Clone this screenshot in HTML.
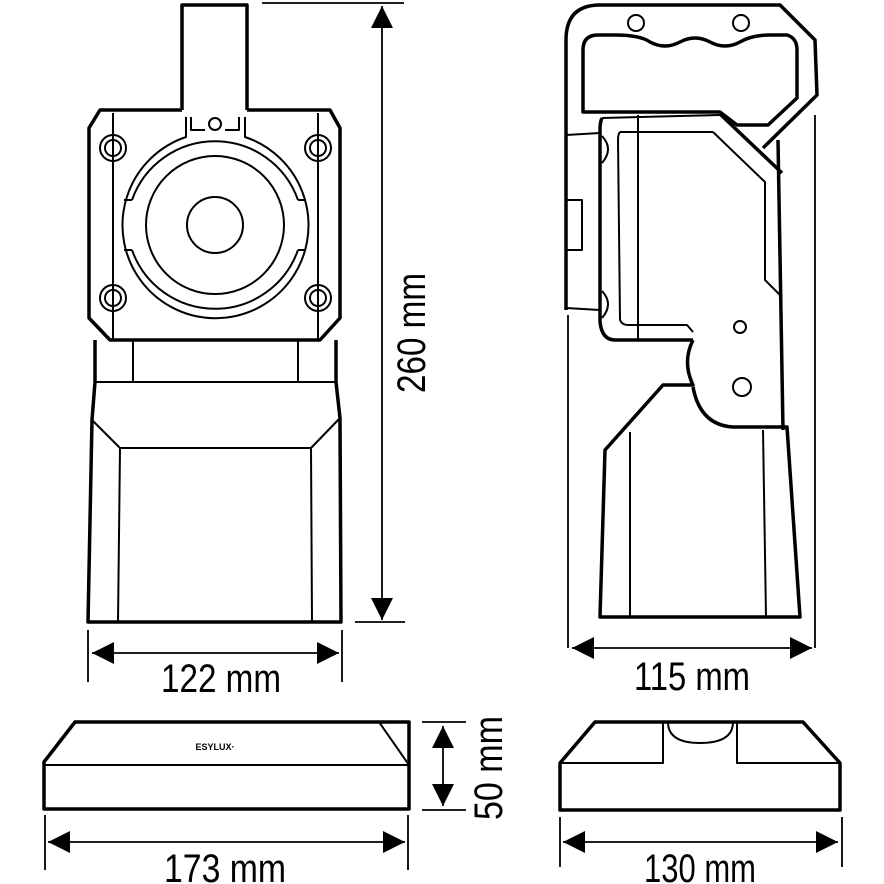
<!DOCTYPE html>
<html><head><meta charset="utf-8"><style>html,body{margin:0;padding:0;background:#fff}svg{display:block}</style></head>
<body>
<svg width="884" height="884" viewBox="0 0 884 884" xmlns="http://www.w3.org/2000/svg">
<defs>
<marker id="a" viewBox="0 0 10 10" refX="10" refY="5" markerWidth="22" markerHeight="22" markerUnits="userSpaceOnUse" orient="auto-start-reverse"><path d="M0,0 L10,5 L0,10 Z" fill="#000"/></marker>
</defs>
<g fill="none" stroke="#000" stroke-linejoin="round">
<!-- FRONT VIEW -->
<g stroke-width="3.5">
<path d="M182,110 L182,5 L247,5 L247,110"/>
<path d="M182,110 L100,110 L89,128 L89,318 L110,340 L320,340 L340,318 L340,128 L330,110 L247,110"/>
<path d="M95,340 L95,382 L92,420 L88,622 L341,622 L340,418 L336,382 L336,340"/>
</g>
<g stroke-width="2">
<line x1="113" y1="113" x2="113" y2="340"/><line x1="318" y1="113" x2="318" y2="340"/>
<circle cx="113" cy="148" r="13"/><circle cx="113" cy="148" r="8"/>
<circle cx="318" cy="148" r="13"/><circle cx="318" cy="148" r="8"/>
<circle cx="113" cy="298" r="13"/><circle cx="113" cy="298" r="8"/>
<circle cx="318" cy="298" r="13"/><circle cx="318" cy="298" r="8"/>
<path d="M186,117 L186,137 A93,93 0 1 0 245,137 L245,117"/>
<path d="M191,117 L191,130 L205,130 M225,130 L239,130 L239,117"/>
<circle cx="215" cy="124" r="6"/>
<path d="M132,200 L124,200 M298,200 L306,200 M132,250 L124,250 M298,250 L306,250"/>
<path d="M132,200 A88,88 0 0 1 298,200 M132,250 A88,88 0 0 0 298,250"/>
<circle cx="215" cy="225" r="69"/>
<circle cx="215" cy="225" r="28"/>
<line x1="133" y1="340" x2="133" y2="382"/><line x1="298" y1="340" x2="298" y2="382"/>
<line x1="95" y1="382" x2="336" y2="382"/>
<path d="M92,420 L120,448 L311,448 L340,418"/>
<line x1="120" y1="448" x2="118" y2="622"/><line x1="311" y1="448" x2="312" y2="622"/>
</g>
<!-- dims front -->
<g stroke-width="1.8">
<line x1="88" y1="630" x2="88" y2="682"/><line x1="342" y1="630" x2="342" y2="682"/>
<line x1="92" y1="653" x2="339" y2="653" marker-start="url(#a)" marker-end="url(#a)"/>
<line x1="262" y1="3" x2="404" y2="3"/><line x1="355" y1="622" x2="405" y2="622"/>
<line x1="382" y1="6" x2="382" y2="620" marker-start="url(#a)" marker-end="url(#a)"/>
</g>
<!-- SIDE VIEW -->
<g stroke-width="3.5">
<path d="M566,310 L566,40 Q566,5 600,5 L780,5 L815,40 L817,95 L763,148"/>
<path d="M583,112 L583,50 Q583,35 598,35 L615,35 Q640,35 650,42 Q665,50 680,42 Q695,34 710,42 Q725,50 740,42 Q752,35 770,35 L787,35 Q797,38 797,50 L797,98 L768,125 L737,125 L720,112 Z"/>
<path d="M720,114 L782,173"/>
<path d="M602,118 Q600,122 600,130 L600,322 Q602,340 615,340 L693,340"/>
<path d="M693,340 Q682,362 693,385 L663,385 L605,450 L600,617 L800,617 L787,427 L733,427 Q700,425 693,387"/>
<path d="M778,140 L783,430"/>
</g>
<g stroke-width="2">
<circle cx="636" cy="23" r="8"/><circle cx="741" cy="23" r="8"/>
<path d="M713,132 L765,182 L765,280 L782,297"/>
<path d="M602,118 L720,115"/>
<path d="M620,132 L713,132 M620,132 Q618,134 618,140 L620,320 Q622,325 628,325 L687,325 L693,332"/>
<line x1="638" y1="115" x2="638" y2="340"/>
<path d="M566,135 L600,133 M566,308 L600,310"/>
<path d="M566,200 L582,200 L582,250 L566,250"/>
<path d="M602,136 Q614,149 602,163 M602,291 Q614,304 602,318"/>
<circle cx="740" cy="327" r="6"/><circle cx="742" cy="387" r="9"/>
<line x1="630" y1="432" x2="630" y2="617"/><line x1="763" y1="430" x2="766" y2="617"/>
</g>
<g stroke-width="1.8">
<line x1="815" y1="115" x2="815" y2="648"/><line x1="568" y1="315" x2="568" y2="648"/>
<line x1="572" y1="648" x2="812" y2="648" marker-start="url(#a)" marker-end="url(#a)"/>
</g>
<!-- BOTTOM LEFT -->
<g stroke-width="3.5">
<path d="M75,722 L409,722 L409,809 L44,809 L44,762 Z"/>
</g>
<g stroke-width="2">
<line x1="44" y1="765" x2="409" y2="765"/>
<line x1="379" y1="722" x2="409" y2="765"/>
</g>
<g stroke-width="1.8">
<line x1="422" y1="722" x2="466" y2="722"/><line x1="422" y1="810" x2="466" y2="810"/>
<line x1="443" y1="726" x2="443" y2="806" marker-start="url(#a)" marker-end="url(#a)"/>
<line x1="45" y1="815" x2="45" y2="870"/><line x1="408" y1="815" x2="408" y2="870"/>
<line x1="48" y1="842" x2="405" y2="842" marker-start="url(#a)" marker-end="url(#a)"/>
</g>
<!-- BOTTOM RIGHT -->
<g stroke-width="3.5">
<path d="M595,722 L803,722 L840,763 L840,810 L560,810 L560,763 Z"/>
</g>
<g stroke-width="2">
<path d="M560,763 L663,763 L663,722 M737,722 L737,763 L840,763"/>
<path d="M668,722 Q668,743 700,743 Q733,743 733,722"/>
</g>
<g stroke-width="1.8">
<line x1="560" y1="817" x2="560" y2="867"/><line x1="842" y1="817" x2="842" y2="867"/>
<line x1="563" y1="842" x2="838" y2="842" marker-start="url(#a)" marker-end="url(#a)"/>
</g>
</g>
<g font-family="Liberation Sans Narrow, Liberation Sans, sans-serif" font-size="40" fill="#000">
<text x="161" y="692" textLength="120" lengthAdjust="spacingAndGlyphs">122 mm</text>
<text x="634" y="690" textLength="116" lengthAdjust="spacingAndGlyphs">115 mm</text>
<text x="164" y="882" textLength="122" lengthAdjust="spacingAndGlyphs">173 mm</text>
<text x="644" y="882" textLength="112" lengthAdjust="spacingAndGlyphs">130 mm</text>
<text transform="translate(425,393) rotate(-90)" textLength="120" lengthAdjust="spacingAndGlyphs">260 mm</text>
<text transform="translate(502,820) rotate(-90)" textLength="104" lengthAdjust="spacingAndGlyphs">50 mm</text>
</g>
<text x="215" y="750" font-family="Liberation Sans, sans-serif" font-weight="bold" font-size="9" text-anchor="middle">ESYLUX·</text>
</svg>
</body></html>
